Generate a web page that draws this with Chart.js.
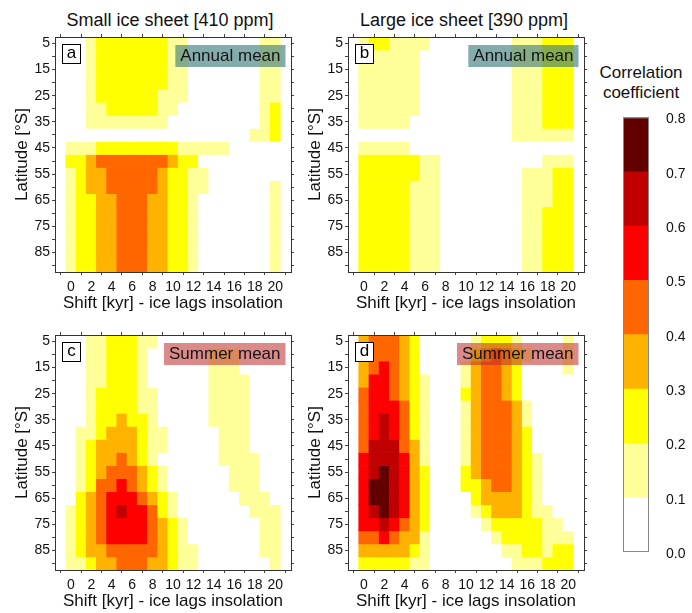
<!DOCTYPE html>
<html>
<head>
<meta charset="utf-8">
<script src="https://cdn.jsdelivr.net/npm/chart.js@4.4.1/dist/chart.umd.min.js"></script>
<style>
  html, body { margin: 0; padding: 0; background: #fff; overflow: hidden; }
  body { width: 692px; height: 613px; position: relative; font-family: "Liberation Sans", Arial, sans-serif; color: #111; }
  canvas { position: absolute; }
  .title { position: absolute; font-size: 18px; line-height: 20px; text-align: center; white-space: nowrap; }
  .cbtitle { font-size: 17px; }
</style>
</head>
<body>
<div class="title" style="left:52px;width:236px;top:10px">Small ice sheet [410 ppm]</div>
<div class="title" style="left:346px;width:236px;top:10px">Large ice sheet [390 ppm]</div>
<div class="title cbtitle" style="left:590px;width:102px;top:63px">Correlation<br>coefficient</div>
<canvas id="pa" width="294" height="318" style="left:6px;top:0px"></canvas>
<canvas id="pb" width="294" height="318" style="left:299px;top:0px"></canvas>
<canvas id="pc" width="294" height="318" style="left:6px;top:298px"></canvas>
<canvas id="pd" width="294" height="318" style="left:299px;top:298px"></canvas>
<canvas id="cbar" width="97" height="470" style="left:595px;top:100px"></canvas>
<script>
(function () {
  "use strict";

  // shift (kyr, ice lags insolation) and latitude (°S) of the grid cells
  var shifts = [0, 1, 2, 3, 4, 5, 6, 7, 8, 9, 10, 11, 12, 13, 14, 15, 16, 17, 18, 19, 20];
  var latitudes = [5, 10, 15, 20, 25, 30, 35, 40, 45, 50, 55, 60, 65, 70, 75, 80, 85, 90];
  var shiftTicks = [0, 2, 4, 6, 8, 10, 12, 14, 16, 18, 20];
  var latTicks = [5, 15, 25, 35, 45, 55, 65, 75, 85];
  var levels = [0.0, 0.1, 0.2, 0.3, 0.4, 0.5, 0.6, 0.7, 0.8];
  var levelColors = ["#ffffff", "#ffff99", "#ffff00", "#ffb300", "#ff6600", "#ff0000", "#c00000", "#620000"];

  // correlation class per cell, one string per latitude row, one digit per shift
  // (0 = 0.0-0.1, 1 = 0.1-0.2, ... 7 = 0.7-0.8)
  var annualSmall = [
    "001222222211000000011",
    "001222222211000000011",
    "001222222211000000011",
    "001222222211000000011",
    "001222222111000000011",
    "001122222110000000012",
    "001111111100000000012",
    "000000000000000000112",
    "111222222221111100000",
    "223444444432200000000",
    "123344444322110000000",
    "123344444322110000001",
    "122334443322100000001",
    "122334443322100000001",
    "122334443322100000001",
    "122334443322100000001",
    "122334443322100000001",
    "122334443322100000001"
  ];
  var annualLarge = [
    "122111100000000111222",
    "111111000000000111222",
    "111111000000000111222",
    "111111000000000111222",
    "111111000000000111222",
    "111111000000000111222",
    "111110000000000111222",
    "000000000000000111111",
    "111110000000000000000",
    "222222110000000000111",
    "222222110000000011122",
    "222221110000000011122",
    "222221110000000011122",
    "222221110000000011222",
    "222221110000000011222",
    "222221110000000011222",
    "222221110000000011222",
    "222221110000000011222"
  ];
  var summerSmall = [
    "001122211000000000000",
    "001122210000001110000",
    "001122210000001110000",
    "001122210000001111000",
    "001222211000001111000",
    "001222211000001111000",
    "001223221000001111000",
    "011233321100000111000",
    "012333321100000111000",
    "012334321000000111100",
    "012344432100000011100",
    "012445432100000011100",
    "023455543210000001110",
    "123456554210000000111",
    "123455554321000000011",
    "123455554321000000011",
    "123344444321100000011",
    "112334443321100000001"
  ];
  var summerLarge = [
    "344432000001222100001",
    "344432000002343210001",
    "345432000013443200001",
    "355432100013443200000",
    "455432100023443200000",
    "455542100013444310000",
    "456542100013444310000",
    "456542100013444320000",
    "466643100013444320000",
    "566653100013444321000",
    "567653200023444321000",
    "577653200022344321000",
    "577653200002333321000",
    "567653200001233321100",
    "556543200000122222110",
    "445433100000012222111",
    "333332100000001122122",
    "222221100000000111222"
  ];

  var FONT = "'Liberation Sans', Arial, sans-serif";
  Chart.defaults.font.family = FONT;
  Chart.defaults.color = "#111";

  function cellValue(grid, r, c) {
    return Number(grid[r].charAt(c)) / 10 + 0.05;
  }
  function colorFor(v) {
    for (var i = levels.length - 2; i >= 0; i--) {
      if (v >= levels[i]) return levelColors[i];
    }
    return levelColors[0];
  }

  function buildDatasets(grid) {
    return latitudes.map(function (lat, r) {
      return {
        data: shifts.map(function (s) { return { x: s, y: [lat - 2.5, lat + 2.5] }; }),
        backgroundColor: shifts.map(function (s, c) { return colorFor(cellValue(grid, r, c)); }),
        borderWidth: 0,
        grouped: false,
        barPercentage: 1,
        categoryPercentage: 1
      };
    });
  }

  var panelTags = {
    id: "panelTags",
    afterDatasetsDraw: function (chart, args, opts) {
      var a = chart.chartArea, ctx = chart.ctx;
      ctx.save();
      ctx.fillStyle = "#fff";
      ctx.fillRect(a.left + 7, a.top + 7, 18, 19);
      ctx.strokeStyle = "#000";
      ctx.lineWidth = 1;
      ctx.strokeRect(a.left + 7.5, a.top + 7.5, 18, 19);
      ctx.font = "17px " + FONT;
      ctx.fillStyle = "#000";
      ctx.textAlign = "center";
      ctx.textBaseline = "middle";
      ctx.fillText(opts.letter, a.left + 16.5, a.top + 16.5);
      var w = ctx.measureText(opts.season).width + 10;
      ctx.fillStyle = opts.boxColor;
      ctx.fillRect(a.right - 5.5 - w, a.top + 8, w, 22);
      ctx.fillStyle = "#151515";
      ctx.fillText(opts.season, a.right - 5.5 - w / 2, a.top + 19.5);
      ctx.restore();
    }
  };

  function fixed(prop, size) {
    return function (scale) { scale[prop] = size; };
  }
  function setTicks(values) {
    return function (scale) {
      scale.ticks = values.map(function (v) { return { value: v }; });
    };
  }

  function drawPanel(id, grid, letter, season, boxColor) {
    var frame = { color: "#333", width: 1, z: 1 };
    var marks = { drawOnChartArea: false, tickLength: 3, color: "#444" };
    new Chart(document.getElementById(id), {
      type: "bar",
      data: { datasets: buildDatasets(grid) },
      plugins: [panelTags],
      options: {
        responsive: false,
        animation: false,
        events: [],
        layout: { padding: 0 },
        plugins: {
          legend: { display: false },
          tooltip: { enabled: false },
          panelTags: { letter: letter, season: season, boxColor: boxColor }
        },
        scales: {
          x: {
            type: "linear", position: "bottom", min: -0.5, max: 20.5,
            afterBuildTicks: setTicks(shiftTicks),
            afterFit: fixed("height", 46),
            ticks: { font: { size: 14 }, padding: 4, maxRotation: 0, autoSkip: false },
            grid: marks, border: frame,
            title: { display: true, text: "Shift [kyr] - ice lags insolation", font: { size: 17 }, padding: { top: 0, bottom: 4 } }
          },
          x2: {
            type: "linear", axis: "x", position: "top", min: -0.5, max: 20.5,
            afterBuildTicks: setTicks(shiftTicks),
            afterFit: fixed("height", 37),
            ticks: { display: false, autoSkip: false },
            grid: marks, border: frame
          },
          y: {
            type: "linear", position: "left", reverse: true, min: 2.5, max: 92.5,
            afterBuildTicks: setTicks(latitudes),
            afterFit: fixed("width", 49),
            ticks: {
              font: { size: 14 }, padding: 2, autoSkip: false,
              callback: function (v) { return latTicks.indexOf(v) >= 0 ? String(v) : ""; }
            },
            grid: marks, border: frame,
            title: { display: true, text: "Latitude [°S]", font: { size: 17 }, padding: { top: 6, bottom: 0 } }
          },
          y2: {
            type: "linear", axis: "y", position: "right", reverse: true, min: 2.5, max: 92.5,
            afterBuildTicks: setTicks(latitudes),
            afterFit: fixed("width", 9),
            ticks: { display: false, autoSkip: false },
            grid: marks, border: frame
          }
        }
      }
    });
  }

  var annualBox = "rgba(58,121,121,0.62)";
  var summerBox = "rgba(190,40,40,0.55)";
  drawPanel("pa", annualSmall, "a", "Annual mean", annualBox);
  drawPanel("pb", annualLarge, "b", "Annual mean", annualBox);
  drawPanel("pc", summerSmall, "c", "Summer mean", summerBox);
  drawPanel("pd", summerLarge, "d", "Summer mean", summerBox);

  // colour bar
  var cbarFrame = {
    id: "cbarFrame",
    afterDatasetsDraw: function (chart) {
      var a = chart.chartArea, ctx = chart.ctx;
      ctx.save();
      ctx.strokeStyle = "#888";
      ctx.lineWidth = 1;
      ctx.strokeRect(a.left + 0.5, a.top + 0.5, a.right - a.left - 1, a.bottom - a.top - 1);
      ctx.restore();
    }
  };
  new Chart(document.getElementById("cbar"), {
    type: "bar",
    data: {
      labels: [""],
      datasets: levelColors.map(function (c, i) {
        return {
          data: [[levels[i], levels[i + 1]]],
          backgroundColor: c, borderWidth: 0, grouped: false,
          barPercentage: 1, categoryPercentage: 1
        };
      })
    },
    plugins: [cbarFrame],
    options: {
      responsive: false,
      animation: false,
      events: [],
      layout: { padding: { left: 28, top: 16, bottom: 18, right: 0 } },
      plugins: { legend: { display: false }, tooltip: { enabled: false } },
      scales: {
        x: { display: false },
        y: {
          position: "right", min: 0, max: 0.8,
          afterBuildTicks: setTicks(levels),
          afterFit: fixed("width", 43),
          ticks: {
            font: { size: 14 }, padding: 9, labelOffset: 2, autoSkip: false,
            callback: function (v) { return Number(v).toFixed(1); }
          },
          grid: { display: false }, border: { display: false }
        }
      }
    }
  });
})();
</script>
</body>
</html>
